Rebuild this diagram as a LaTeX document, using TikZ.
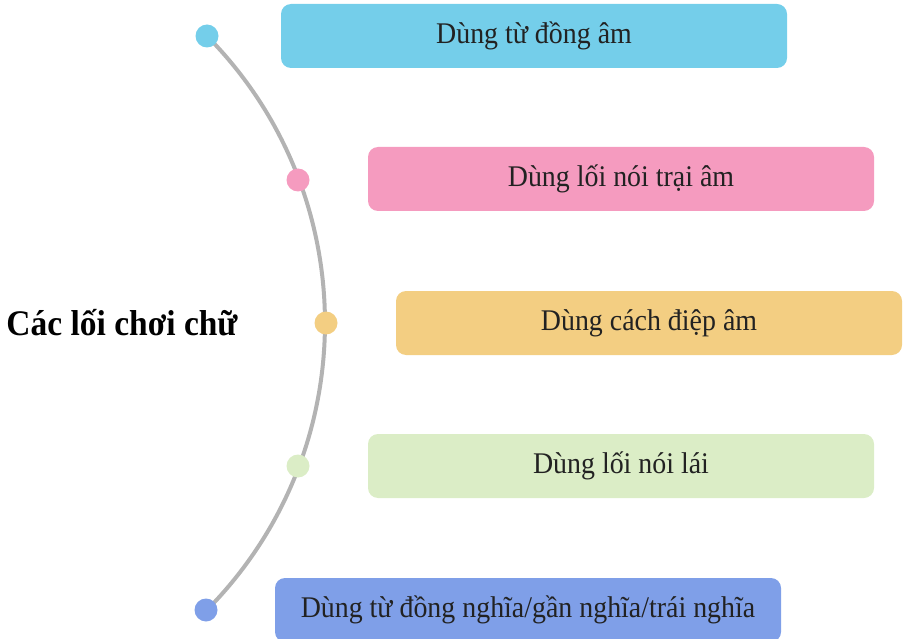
\documentclass[tikz,border=0pt]{standalone}
\usepackage{fontspec}
\setmainfont{Liberation Serif}
\newfontfamily\boxfont[FakeStretch=0.93]{Liberation Serif}
\definecolor{cblue}{HTML}{74CEEA}
\definecolor{cpink}{HTML}{F59BBF}
\definecolor{corange}{HTML}{F3CE82}
\definecolor{cgreen}{HTML}{DBEDC6}
\definecolor{cpurple}{HTML}{7F9FE8}
\definecolor{carc}{HTML}{B3B3B3}
\definecolor{ctext}{HTML}{222222}
\begin{document}
\begin{tikzpicture}[x=1pt,y=-1pt,
  itembox/.style={rectangle, rounded corners=10pt, minimum width=506pt, minimum height=64pt, inner sep=0pt, text=ctext, font=\boxfont\fontsize{30}{32}\selectfont},
  dot/.style={circle, minimum size=23pt, inner sep=0pt},
  arcline/.style={draw=carc, line width=4pt}]
\useasboundingbox (0,0) rectangle (905,639);
\clip (0,0) rectangle (905,639);
\coordinate (p1) at (207,36);
\coordinate (p2) at (298,180);
\coordinate (p3) at (326,323);
\coordinate (p4) at (298,466);
\coordinate (p5) at (206,610);
\draw[arcline] (p1) arc[start angle=44.7, end angle=-44.7, radius=408pt];
\node[dot, fill=cblue] (d1) at (p1) {};
\node[dot, fill=cpink] (d2) at (p2) {};
\node[dot, fill=corange] (d3) at (p3) {};
\node[dot, fill=cgreen] (d4) at (p4) {};
\node[dot, fill=cpurple] (d5) at (p5) {};
\node[itembox, fill=cblue] (b1) at (534,36) {Dùng từ đồng âm};
\node[itembox, fill=cpink] (b2) at (621,179) {Dùng lối nói trại âm};
\node[itembox, fill=corange] (b3) at (649,323) {Dùng cách điệp âm};
\node[itembox, fill=cgreen] (b4) at (621,466) {Dùng lối nói lái};
\node[itembox, fill=cpurple] (b5) at (528,610) {Dùng từ đồng nghĩa/gần nghĩa/trái nghĩa};
\node[font=\boxfont\bfseries\fontsize{36}{38}\selectfont, text=black] (title) at (122,323) {Các lối chơi chữ};
\end{tikzpicture}
\end{document}
